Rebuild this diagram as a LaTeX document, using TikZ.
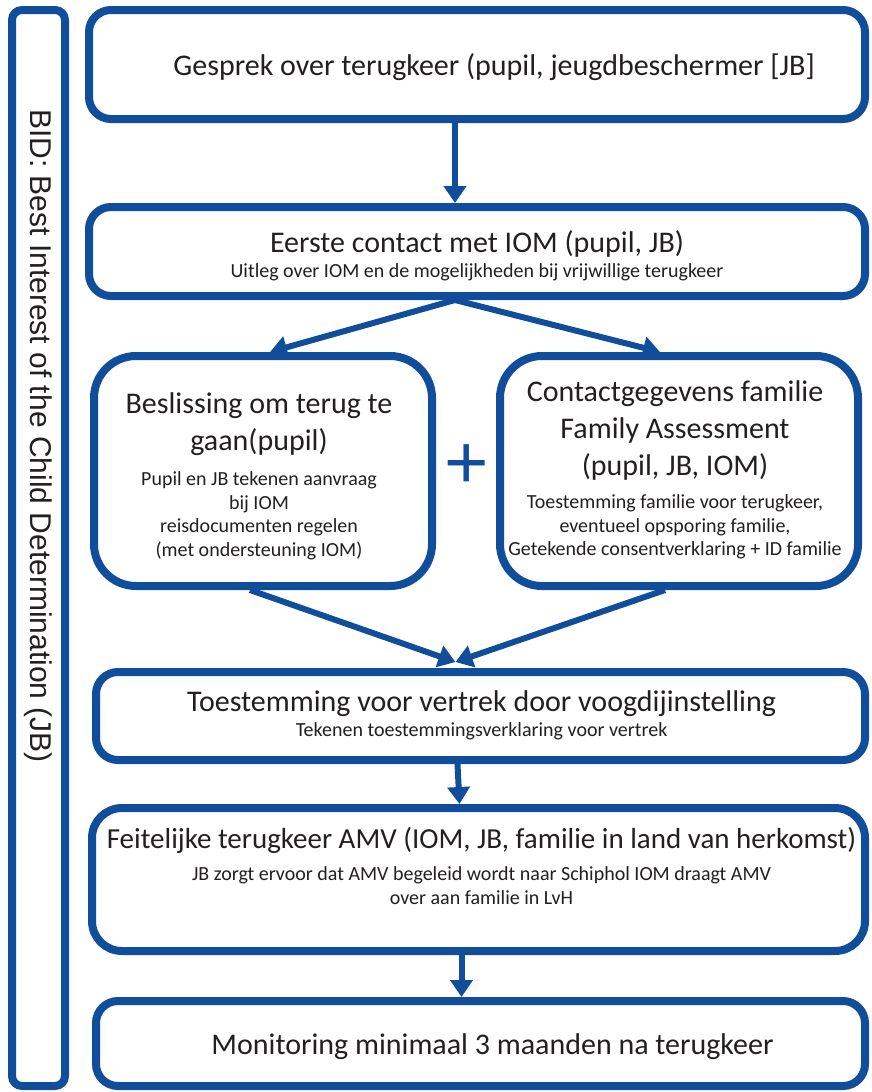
\documentclass[tikz,border=0pt]{standalone}
\usepackage{fontspec}
\setmainfont{Carlito}
\newfontfamily\arialfont{Liberation Sans}
\usetikzlibrary{arrows.meta}

\definecolor{iomblue}{RGB}{16,78,156}
\definecolor{tekst}{RGB}{35,31,32}
\newcommand{\kopf}{\fontsize{30}{37}\selectfont}
\newcommand{\subf}{\fontsize{20}{23.5}\selectfont}
\newcommand{\subblok}[1]{{\subf\begin{tabular}[t]{@{}c@{}}#1\end{tabular}}}

\begin{document}
\begin{tikzpicture}[x=1pt, y=-1pt,
  blok/.style={draw=iomblue, line width=8pt, rounded corners=22pt, fill=white, inner sep=0pt},
  kop/.style={text=tekst, align=center, inner sep=0pt, font=\kopf},
  pijl/.style={draw=iomblue, line width=6pt, -{Triangle[length=17pt,width=22pt]}}]
  \useasboundingbox (0,0) rectangle (872,1092);

  % kader links
  \node[blok, rounded corners=10pt, minimum width=53pt, minimum height=1076pt] (bid) at (38.5,548) {};
  \node[rotate=-90, text=tekst, font=\arialfont\fontsize{30}{34}\selectfont] (bidtekst) at (38,436)
    {BID: Best Interest of the Child Determination (JB)};

  % stappen
  \node[blok, minimum width=776pt, minimum height=109pt] (gesprek) at (477,64.5) {};
  \node[kop] (gesprektekst) at ([xshift=17pt,yshift=-3pt]gesprek.center)
    {Gesprek over terugkeer (pupil, jeugdbeschermer [JB]};

  \node[blok, minimum width=776pt, minimum height=89pt] (eerste) at (477,251.5) {};
  \node[kop] (eerstetekst) at ([yshift=-6pt]eerste.center)
    {Eerste contact met IOM (pupil, JB)\\[-12pt]
     \subblok{Uitleg over IOM en de mogelijkheden bij vrijwillige terugkeer}};

  \node[blok, rounded corners=42pt, minimum width=338pt, minimum height=230pt] (beslis) at (263,471) {};
  \node[kop] (beslistekst) at ([xshift=-4pt,yshift=-7pt]beslis.center)
    {Beslissing om terug te\\ gaan(pupil)\\[-2pt]
     \subblok{Pupil en JB tekenen aanvraag\\ bij IOM\\ reisdocumenten regelen\\ (met ondersteuning IOM)}};

  \node[blok, rounded corners=42pt, minimum width=358pt, minimum height=230pt] (contact) at (679,471) {};
  \node[kop] (contacttekst) at ([xshift=-4pt,yshift=-1pt]contact.center)
    {Contactgegevens familie\\ Family Assessment\\ (pupil, JB, IOM)\\[-4pt]
     \subblok{Toestemming familie voor terugkeer,\\ eventueel opsporing familie,\\
     Getekende consentverklaring + ID familie}};

  \node[text=iomblue, font=\arialfont\fontsize{76}{76}\selectfont] (plus) at (467,467) {+};

  \node[blok, minimum width=769pt, minimum height=88pt] (toest) at (480.5,716) {};
  \node[kop] (toesttekst) at ([xshift=1pt,yshift=-1pt]toest.center)
    {Toestemming voor vertrek door voogdijinstelling\\[-12pt]
     \subblok{Tekenen toestemmingsverklaring voor vertrek}};

  \node[blok, rounded corners=30pt, minimum width=773pt, minimum height=143pt] (feit) at (478.5,879.5) {};
  \node[kop] (feittekst) at ([xshift=3pt,yshift=10pt]feit.center)
    {\fontsize{29}{37}\selectfont Feitelijke terugkeer AMV (IOM, JB, familie in land van herkomst)\\[-5pt]
     \subblok{JB zorgt ervoor dat AMV begeleid wordt naar Schiphol IOM draagt AMV\\ over aan familie in LvH}};

  \node[blok, minimum width=769pt, minimum height=85pt] (monit) at (480.5,1043.5) {};
  \node[kop] (monittekst) at ([xshift=12pt,yshift=-3pt]monit.center)
    {Monitoring minimaal 3 maanden na terugkeer};

  % pijlen
  \draw[pijl] ([xshift=-22pt]gesprek.south) -- ([xshift=-22pt]eerste.north);
  \draw[pijl] ([xshift=-22pt]eerste.south) -- ([xshift=7pt]beslis.north);
  \draw[pijl] ([xshift=-22pt]eerste.south) -- ([xshift=-19pt]contact.north);
  \draw[pijl] ([xshift=-13pt]beslis.south) -- ([xshift=-25pt,yshift=6pt]toest.north);
  \draw[pijl] ([xshift=-14pt]contact.south) -- ([xshift=-25pt,yshift=6pt]toest.north);
  \draw[pijl] ([xshift=-23pt]toest.south) -- ([xshift=-19pt]feit.north);
  \draw[pijl] ([xshift=-17pt]feit.south) -- ([xshift=-19pt]monit.north);
\end{tikzpicture}
\end{document}
